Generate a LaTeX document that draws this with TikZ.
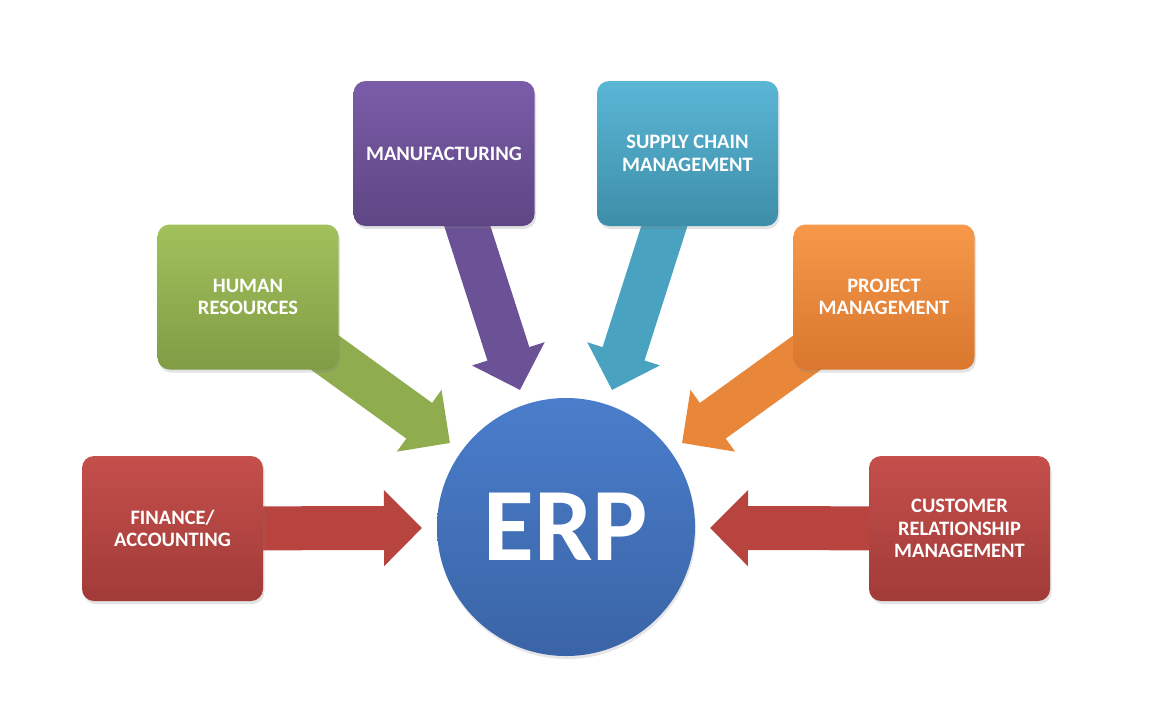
\documentclass[tikz,border=0pt]{standalone}
\usepackage{fontspec}
\setmainfont{Carlito}
\usetikzlibrary{arrows.meta,shadows,backgrounds}
\definecolor{redT}{HTML}{C44F4B}
\definecolor{redB}{HTML}{A13B38}
\definecolor{redA}{HTML}{B8443F}
\definecolor{grnT}{HTML}{A2C15B}
\definecolor{grnB}{HTML}{809C45}
\definecolor{grnA}{HTML}{8FAD4E}
\definecolor{purT}{HTML}{7B5CA8}
\definecolor{purB}{HTML}{5E4684}
\definecolor{purA}{HTML}{6B5195}
\definecolor{aquT}{HTML}{5AB6D6}
\definecolor{aquB}{HTML}{3D8EA8}
\definecolor{aquA}{HTML}{49A2C0}
\definecolor{orgT}{HTML}{F7984A}
\definecolor{orgB}{HTML}{D8772D}
\definecolor{orgA}{HTML}{E8863A}
\definecolor{bluT}{HTML}{4A7DCB}
\definecolor{bluB}{HTML}{3A64A6}
\tikzset{
  modbox/.style={rounded corners=12pt, minimum width=181pt, minimum height=145pt,
    inner sep=0pt, align=center, text=white,
    font=\fontsize{20.5}{22.5}\selectfont\bfseries,
    drop shadow={opacity=0.22, shadow xshift=1.5pt, shadow yshift=-3pt}},
  blockarrow/.style={line width=44pt, -{Triangle[length=38pt,width=74pt]}},
}
\begin{document}
\begin{tikzpicture}[x=1pt,y=-1pt]
\useasboundingbox (0,0) rectangle (1170,710);
% hub
\node[circle, minimum size=258pt, inner sep=0pt, top color=bluT, bottom color=bluB,
  drop shadow={opacity=0.2, shadow xshift=1pt, shadow yshift=-3pt},
  text=white, font=\fontsize{104}{104}\selectfont\bfseries] (erp) at (566,527) {ERP};
% modules
\node[modbox, top color=redT, bottom color=redB] (fin) at (172.5,528.5) {FINANCE/\\ACCOUNTING};
\node[modbox, top color=grnT, bottom color=grnB] (hr) at (248,297) {HUMAN\\RESOURCES};
\node[modbox, top color=purT, bottom color=purB] (mfg) at (444,153.5) {MANUFACTURING};
\node[modbox, top color=aquT, bottom color=aquB] (scm) at (687.5,153.5) {SUPPLY CHAIN\\MANAGEMENT};
\node[modbox, top color=orgT, bottom color=orgB] (pm) at (884,297) {PROJECT\\MANAGEMENT};
\node[modbox, top color=redT, bottom color=redB] (crm) at (959.5,528.5) {CUSTOMER\\RELATIONSHIP\\MANAGEMENT};
% arrow tips
\coordinate (tfin) at (422,528);
\coordinate (thr) at (450,443);
\coordinate (tmfg) at (520,390);
\coordinate (tscm) at (612,390);
\coordinate (tpm) at (682,443);
\coordinate (tcrm) at (710,528);
\begin{scope}[on background layer]
\draw[blockarrow, redA] (fin.center) -- (tfin);
\draw[blockarrow, grnA] (hr.center) -- (thr);
\draw[blockarrow, purA] (mfg.center) -- (tmfg);
\draw[blockarrow, aquA] (scm.center) -- (tscm);
\draw[blockarrow, orgA] (pm.center) -- (tpm);
\draw[blockarrow, redA] (crm.center) -- (tcrm);
\end{scope}
\end{tikzpicture}
\end{document}
